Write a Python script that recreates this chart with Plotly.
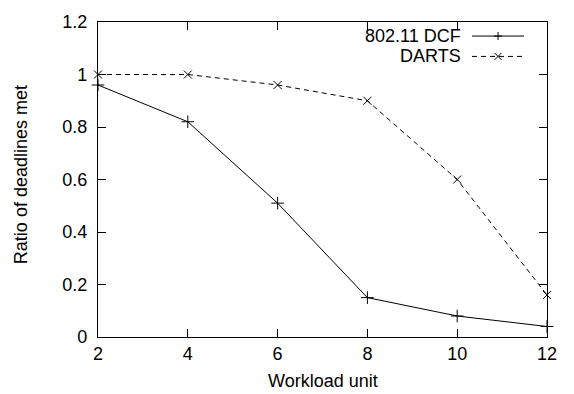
import plotly.graph_objects as go

workload = [2, 4, 6, 8, 10, 12]
dcf = [0.96, 0.82, 0.51, 0.15, 0.08, 0.04]
darts = [1.0, 1.0, 0.96, 0.90, 0.60, 0.16]
series_names = ["802.11 DCF", "DARTS"]
x_ticks = [2, 4, 6, 8, 10, 12]
y_ticks = [0, 0.2, 0.4, 0.6, 0.8, 1.0, 1.2]
y_tick_text = ["0", "0.2", "0.4", "0.6", "0.8", "1", "1.2"]

FONT = "Liberation Sans, Arial, sans-serif"
FS = 18
W, H = 574, 394
L, R, T, B = 98, 27, 12, 57
pw, ph = W - L - R, H - T - B

def px_x(p):
    return (p - L) / pw

def px_y(p):
    return 1 - (p - T) / ph

fig = go.Figure()
fig.add_trace(go.Scatter(
    x=workload, y=dcf, mode="lines+markers", name=series_names[0],
    line=dict(color="black", width=1),
    marker=dict(symbol="cross-thin-open", size=9, line=dict(color="black", width=1)),
    showlegend=False, cliponaxis=False,
))
fig.add_trace(go.Scatter(
    x=workload, y=darts, mode="lines+markers", name=series_names[1],
    line=dict(color="black", width=1, dash="5px,4px"),
    marker=dict(symbol="x-thin-open", size=8, line=dict(color="black", width=1)),
    showlegend=False, cliponaxis=False,
))

axis_common = dict(
    showgrid=False, zeroline=False, showline=True, linecolor="black", linewidth=1.3,
    mirror="ticks", ticks="inside", ticklen=8, tickwidth=1, tickcolor="black",
    tickfont=dict(family=FONT, size=FS, color="black"),
)
fig.update_xaxes(range=[2, 12], tickvals=x_ticks, **axis_common)
fig.update_yaxes(range=[0, 1.2], tickvals=y_ticks, ticktext=y_tick_text,
                 ticklabelstandoff=6, **axis_common)

annotations = [
    dict(text="Workload unit", x=0.5, y=px_y(382), xref="paper", yref="paper",
         showarrow=False, font=dict(family=FONT, size=FS, color="black"),
         xanchor="center", yanchor="middle"),
    dict(text="Ratio of deadlines met", x=px_x(21), y=px_y(170), xref="paper", yref="paper",
         showarrow=False, textangle=-90, font=dict(family=FONT, size=FS, color="black"),
         xanchor="center", yanchor="middle"),
]
shapes = []
leg_rows = [(series_names[0], 26.5, None), (series_names[1], 47.5, "dash")]
for i, (name, yy, dash) in enumerate(leg_rows):
    annotations.append(dict(text=name, x=px_x(462), y=px_y(yy), xref="paper", yref="paper",
                            showarrow=False, font=dict(family=FONT, size=FS, color="black"),
                            xanchor="right", yanchor="middle", borderpad=0))
    shapes.append(dict(type="line", xref="paper", yref="paper",
                       x0=px_x(472), x1=px_x(524), y0=px_y(yy), y1=px_y(yy),
                       line=dict(color="black", width=1, dash="5px,4px" if dash else "solid")))
    cx, cy = px_x(498), px_y(yy)
    if i == 0:
        segs = [(-4, 0, 4, 0), (0, -4, 0, 4)]
    else:
        segs = [(-3.5, -3.5, 3.5, 3.5), (-3.5, 3.5, 3.5, -3.5)]
    for (a, b, c, d) in segs:
        shapes.append(dict(type="line", xref="paper", yref="paper",
                           xsizemode="pixel", ysizemode="pixel", xanchor=cx, yanchor=cy,
                           x0=a, y0=b, x1=c, y1=d, line=dict(color="black", width=1)))

fig.update_layout(
    width=W, height=H, margin=dict(l=L, r=R, t=T, b=B),
    paper_bgcolor="white", plot_bgcolor="white",
    font=dict(family=FONT, size=FS, color="black"),
    annotations=annotations, shapes=shapes, showlegend=False,
)
fig.write_html("out.html", config={"displayModeBar": False},
               post_script="document.body.style.margin='0';")
